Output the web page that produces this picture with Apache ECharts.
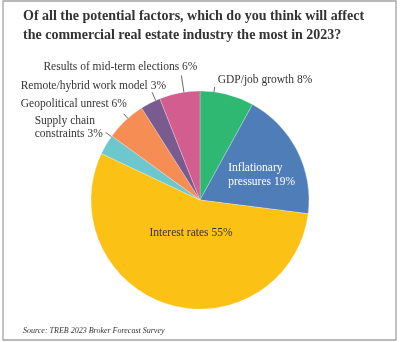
<!DOCTYPE html>
<html>
<head>
<meta charset="utf-8">
<script src="https://cdn.jsdelivr.net/npm/echarts@6/dist/echarts.min.js"></script>
<style>
  html, body { margin: 0; padding: 0; background: #fff; }
  #chart { width: 400px; height: 342px; }
</style>
</head>
<body>
<div id="chart"></div>
<script>
// Survey answers, in clockwise order from twelve o'clock
const categories = [
  'GDP/job growth',
  'Inflationary\npressures',
  'Interest rates',
  'Supply chain\nconstraints',
  'Geopolitical unrest',
  'Remote/hybrid work model',
  'Results of mid-term elections'
];
const shares = [8, 19, 55, 3, 6, 3, 6];
const sliceColors = ['#2eb872', '#4e7db8', '#fbc115', '#6cc8cc', '#f68d55', '#7a5b8f', '#d35d8f'];

const titleText = 'Of all the potential factors, which do you think will affect\nthe commercial real estate industry the most in 2023?';
const sourceText = 'Source: TREB 2023 Broker Forecast Survey';

// Label placement: inside labels are shifted from their default spot,
// outside labels hang off a leader line drawn between two radii.
const placement = [
  { outside: true, rs: 98, re: 114, turn: -7, dx: 3, dy: -7, align: 'left' },
  { outside: false, dx: -23, dy: 1, align: 'left', color: '#ffffff' },
  { outside: false, dx: 7, dy: -22, align: 'center', color: '#333333' },
  { outside: true, rs: 98, re: 116, turn: 5, dx: -71, dy: -5, align: 'left' },
  { outside: true, rs: 103, re: 115, turn: 1.7, dx: 3, dy: -10, align: 'right' },
  { outside: true, rs: 105, re: 118, turn: 3, dx: 14, dy: -6, align: 'right' },
  { outside: true, rs: 103, re: 126, turn: 2.3, dx: -61, dy: -8, align: 'center' }
];

const CX = 200, CY = 200, R = 109;
const FONT = '"Liberation Serif", "Times New Roman", serif';

const chart = echarts.init(document.getElementById('chart'), null, { renderer: 'canvas' });

const data = categories.map((name, i) => {
  const p = placement[i];
  return {
    name: name,
    value: shares[i],
    itemStyle: { color: sliceColors[i] },
    label: {
      position: p.outside ? 'outside' : 'inside',
      color: p.color || '#333333'
    },
    labelLine: { show: p.outside, length: 5, length2: 0 }
  };
});

chart.setOption({
  animation: false,
  title: [
    {
      text: titleText,
      left: 23,
      top: 7,
      padding: 0,
      textStyle: {
        fontFamily: FONT,
        fontSize: 14,
        fontWeight: 'bold',
        color: '#333333',
        lineHeight: 19
      }
    },
    {
      text: sourceText,
      left: 23,
      top: 327,
      padding: 0,
      textStyle: {
        fontFamily: FONT,
        fontSize: 8,
        fontStyle: 'italic',
        fontWeight: 'normal',
        color: '#333333'
      }
    }
  ],
  graphic: [
    {
      type: 'rect',
      shape: { x: 3, y: 1, width: 393, height: 339 },
      style: { fill: 'none', stroke: '#a3a3a3', lineWidth: 1.3 },
      silent: true
    }
  ],
  series: [
    {
      type: 'pie',
      center: [CX, CY],
      radius: [0, R],
      startAngle: 90,
      clockwise: true,
      avoidLabelOverlap: false,
      itemStyle: { borderColor: 'rgba(255,255,255,0.5)', borderWidth: 0.5 },
      emphasis: { disabled: true },
      label: {
        show: true,
        fontFamily: FONT,
        fontSize: 11.5,
        lineHeight: 13.5,
        width: 220,
        overflow: 'none',
        formatter: (p) => p.name + ' ' + p.value + '%'
      },
      labelLine: {
        lineStyle: { color: '#444444', width: 0.8 }
      },
      labelLayout: function (params) {
        const p = placement[params.dataIndex];
        if (p.outside && params.labelLinePoints) {
          const a0 = params.labelLinePoints[0];
          const ang = Math.atan2(a0[0] - CX, CY - a0[1]) + p.turn * Math.PI / 180;
          const sx = CX + p.rs * Math.sin(ang), sy = CY - p.rs * Math.cos(ang);
          const ex = CX + p.re * Math.sin(ang), ey = CY - p.re * Math.cos(ang);
          return {
            x: ex + p.dx,
            y: ey + p.dy,
            align: p.align,
            verticalAlign: 'middle',
            labelLinePoints: [[sx, sy], [ex, ey]]
          };
        }
        const r = params.labelRect;
        return {
          x: r.x + r.width / 2 + p.dx,
          y: r.y + r.height / 2 + p.dy,
          align: p.align,
          verticalAlign: 'middle'
        };
      },
      data: data
    }
  ]
});
</script>
</body>
</html>
